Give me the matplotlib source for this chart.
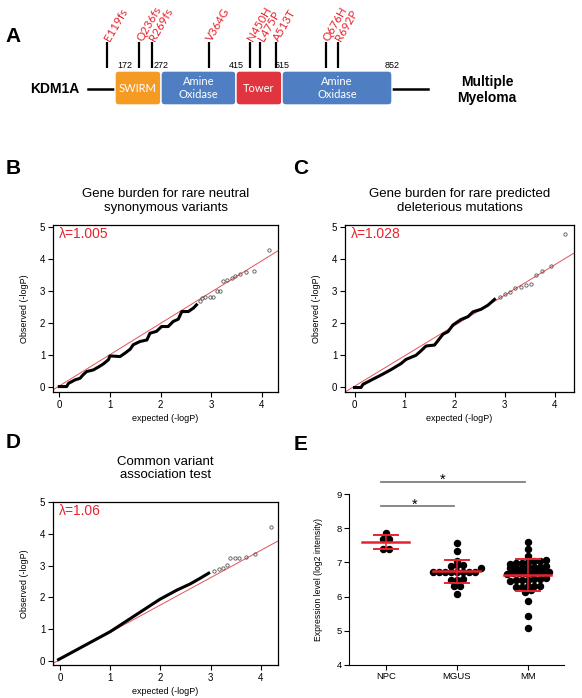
import numpy as np
import matplotlib
matplotlib.use('Agg')
import matplotlib.pyplot as plt
from matplotlib.patches import FancyBboxPatch

plt.rcParams['font.family'] = ['Liberation Sans', 'DejaVu Sans']

# ---- panel A: KDM1A domains and mutations
domain_names = ['SWIRM', 'Amine\nOxidase', 'Tower', 'Amine\nOxidase']
domain_start = [172, 272, 415, 515]
domain_end = [272, 415, 515, 852]
domain_colors = ['#F59A23', '#4F7EC2', '#E0343E', '#4F7EC2']
boundaries = [172, 272, 415, 515, 852]
mutations = ['E119fs', 'Q236fs', 'R269fs', 'V364G', 'N450H', 'L475P', 'A513T', 'Q676H', 'R692P']
mut_pos = [119, 236, 269, 364, 450, 475, 513, 676, 692]

# ---- panels B-D: QQ plots
b_exp = [0.0, 0.145, 0.18, 0.31, 0.41, 0.47, 0.54, 0.67, 0.77, 0.87, 0.97, 1.0, 1.2, 1.3, 1.40,
         1.46, 1.59, 1.73, 1.79, 1.92, 2.02, 2.15, 2.25, 2.35, 2.42, 2.55, 2.65, 2.71]
b_obs = [0.0, 0.0, 0.10, 0.21, 0.26, 0.37, 0.47, 0.52, 0.61, 0.71, 0.84, 0.96, 0.94, 1.05, 1.17,
         1.31, 1.41, 1.46, 1.67, 1.73, 1.88, 1.88, 2.04, 2.11, 2.35, 2.35, 2.46, 2.56]
b_tail_exp = [2.77, 2.81, 2.88, 2.98, 3.04, 3.11, 3.18, 3.24, 3.31, 3.41, 3.47, 3.57, 3.69, 3.85, 4.15]
b_tail_obs = [2.67, 2.77, 2.82, 2.82, 2.82, 2.98, 2.98, 3.30, 3.35, 3.40, 3.45, 3.53, 3.58, 3.63, 4.27]

c_exp = [0.0, 0.13, 0.17, 0.33, 0.53, 0.73, 0.93, 1.03, 1.23, 1.33, 1.43, 1.60, 1.77, 1.87, 1.97,
         2.13, 2.27, 2.37, 2.53, 2.67, 2.80]
c_obs = [-0.02, -0.02, 0.08, 0.21, 0.37, 0.54, 0.73, 0.86, 0.99, 1.13, 1.28, 1.31, 1.65, 1.73, 1.94,
         2.11, 2.20, 2.35, 2.43, 2.56, 2.74]
c_tail_exp = [2.90, 3.00, 3.10, 3.20, 3.33, 3.43, 3.52, 3.63, 3.75, 3.92, 4.21]
c_tail_obs = [2.82, 2.91, 2.98, 3.09, 3.14, 3.19, 3.21, 3.50, 3.63, 3.79, 4.78]

d_exp = [-0.03, 1.0, 1.99, 2.33, 2.59, 2.79, 2.96]
d_obs = [0.04, 0.92, 1.94, 2.23, 2.42, 2.60, 2.76]
d_tail_exp = [3.06, 3.16, 3.24, 3.32, 3.39, 3.48, 3.57, 3.71, 3.89, 4.20]
d_tail_obs = [2.83, 2.88, 2.92, 3.02, 3.23, 3.23, 3.25, 3.28, 3.36, 4.20]

qq_titles = ['Gene burden for rare neutral\nsynonymous variants',
             'Gene burden for rare predicted\ndeleterious mutations',
             'Common variant\nassociation test']
qq_lambda = ['λ=1.005', 'λ=1.028', 'λ=1.06']
qq_slope = [0.98, 0.95, 0.86]
qq_icpt = [0.02, 0.02, 0.04]

# ---- panel E: expression levels
groups = ['NPC', 'MGUS', 'MM']
npc = [7.85, 7.67, 7.67, 7.38, 7.39]
mgus = [7.56, 7.33, 7.04, 6.93, 6.92, 6.90, 6.83, 6.72, 6.72, 6.72, 6.72, 6.72, 6.72, 6.72, 6.72,
        6.52, 6.50, 6.48, 6.32, 6.30, 6.08]
mm = [7.60, 7.40, 7.19,
      7.05, 7.02, 6.98, 6.95, 6.97, 7.03, 7.06,
      6.88, 6.86, 6.84, 6.90, 6.85, 6.83, 6.87,
      6.72, 6.70, 6.68, 6.71, 6.69, 6.73, 6.67, 6.70,
      6.52, 6.50, 6.48, 6.51, 6.47, 6.49, 6.53,
      6.32, 6.30, 6.28, 6.31, 6.27,
      6.18, 6.13,
      5.87, 5.42, 5.08]
sig_pairs = [(0, 2), (0, 1)]
sig_y = [9.35, 8.64]

RED = '#E8232E'
W, H = 582, 698

fig = plt.figure(figsize=(W / 100, H / 100), dpi=100)


def fbox(x0, y0, x1, y1):
    # pixel box (from top-left) -> figure fraction rect
    return [x0 / W, 1 - y1 / H, (x1 - x0) / W, (y1 - y0) / H]


# %% panel A  (schematic, not to scale: residue -> drawing position)
aa_knots = [0, 172, 269, 272, 415, 513, 515, 676, 692, 852, 940]
px_knots = [88, 115, 152, 161, 236, 276, 282, 326, 338, 392, 428]


def to_px(aa):
    return np.interp(aa, aa_knots, px_knots)


axA = fig.add_axes(fbox(0, 0, W, 125))
axA.set_xlim(0, W)
axA.set_ylim(125, 0)
axA.axis('off')

axA.plot(to_px([0, 940]), [89, 89], color='black', lw=1.8, zorder=1)
for name, s, e, c in zip(domain_names, domain_start, domain_end, domain_colors):
    x0, x1 = to_px(s), to_px(e)
    box = FancyBboxPatch((x0, 71), x1 - x0, 34, boxstyle='round,pad=0,rounding_size=4',
                         fc=c, ec='white', lw=1, zorder=2)
    axA.add_patch(box)
    axA.text((x0 + x1) / 2, 88, name, color='white', ha='center', va='center',
             fontsize=8, family='Lato', linespacing=1.15, zorder=3)

for i, b in enumerate(boundaries):
    axA.text(to_px(b) + (2 if i == 0 else 0), 66, str(b), ha='left' if i == 0 else 'center',
             va='center', fontsize=6.5)

axA.vlines(to_px(mut_pos), 42, 68, color='black', lw=1.6)
for m, p in zip(mutations, to_px(mut_pos)):
    axA.text(p, 40, m, rotation=60, rotation_mode='anchor', ha='left', va='center',
             color=RED, fontsize=8.3, family='Lato')

axA.text(55, 89, 'KDM1A', fontsize=10, weight='bold', ha='center', va='center')
axA.text(487, 90, 'Multiple\nMyeloma', fontsize=10, weight='bold',
         ha='center', va='center', linespacing=1.2)

# %% panels B, C, D
qq_boxes = [fbox(53, 225, 278, 392), fbox(345, 225, 574, 392), fbox(53, 502, 278, 665)]
qq_xlim = [(-0.125, 4.32), (-0.19, 4.39), (-0.14, 4.34)]
qq_ylim = [(-0.17, 5.06), (-0.16, 5.07), (-0.13, 5.0)]
qq_pad = [10, 10, 17]
lines = [(b_exp, b_obs, b_tail_exp, b_tail_obs),
         (c_exp, c_obs, c_tail_exp, c_tail_obs),
         (d_exp, d_obs, d_tail_exp, d_tail_obs)]

for k in range(3):
    ax = fig.add_axes(qq_boxes[k])
    ex, ob, tex, tob = lines[k]
    ax.axline((0, qq_icpt[k]), slope=qq_slope[k], color='#E5505A', lw=0.7, zorder=1)
    ax.plot(ex, ob, color='black', lw=2.2, solid_joinstyle='round', zorder=2)
    ax.plot(tex, tob, 'o', mfc='none', mec='#555555', ms=2.4, mew=0.6, zorder=2)
    ax.set_xlim(qq_xlim[k])
    ax.set_ylim(qq_ylim[k])
    ax.set_xticks(range(5))
    ax.set_yticks(range(6))
    ax.tick_params(labelsize=7, length=3.5, width=0.8, pad=2)
    for sp in ax.spines.values():
        sp.set_linewidth(0.9)
    ax.set_xlabel('expected (-logP)', fontsize=6.5, labelpad=3)
    ax.set_ylabel('Observed (-logP)', fontsize=6.5, labelpad=8)
    ax.set_title(qq_titles[k], fontsize=9.5, pad=qq_pad[k], linespacing=1.2)
    ax.text(0.025, 0.945, qq_lambda[k], transform=ax.transAxes, color=RED,
            fontsize=10, va='center', ha='left')

# %% panel E
axE = fig.add_axes(fbox(349, 494, 564, 665))
step = 0.085
for i, vals in enumerate([npc, mgus, mm]):
    # simple swarm: group close values into rows, spread each row sideways
    v = np.sort(np.array(vals))
    xs = []
    ys = []
    row = [v[0]]
    rows = []
    for val in v[1:]:
        if val - row[0] <= 0.12:
            row.append(val)
        else:
            rows.append(row)
            row = [val]
    rows.append(row)
    for r in rows:
        n = len(r)
        off = (np.arange(n) - (n - 1) / 2) * step
        xs.extend(i + off)
        ys.extend(r)
    axE.scatter(xs, ys, s=19, color='black', zorder=2)
    mean = np.mean(vals)
    sd = np.std(vals, ddof=1)
    axE.plot([i - 0.33, i + 0.33], [mean, mean], color=RED, lw=1.8, zorder=3)
    axE.plot([i, i], [mean - sd, mean + sd], color=RED, lw=1.1, zorder=3)
    axE.plot([i - 0.17, i + 0.17], [mean + sd, mean + sd], color=RED, lw=1.4, zorder=3)
    axE.plot([i - 0.17, i + 0.17], [mean - sd, mean - sd], color=RED, lw=1.4, zorder=3)

for (a, b), y in zip(sig_pairs, sig_y):
    axE.plot([a - 0.07, b - 0.04], [y, y], color='#7F7F7F', lw=1.3, clip_on=False)
    axE.annotate('*', (a + 0.4 * (b - a), y), xytext=(0, -1.5), textcoords='offset points',
                 ha='center', va='baseline', fontsize=10.5, annotation_clip=False)

axE.set_xlim(-0.52, 2.51)
axE.set_ylim(4, 9)
axE.set_xticks(range(3))
axE.set_xticklabels(groups)
axE.set_yticks(range(4, 10))
axE.spines['top'].set_visible(False)
axE.spines['right'].set_visible(False)
axE.tick_params(labelsize=6.8, length=3.5, width=0.8, pad=1.5)
axE.set_ylabel('Expression level (log2 intensity)', fontsize=6.2, labelpad=10)

# panel letters
for lab, x, y in [('A', 13, 36), ('B', 13, 169), ('C', 301, 169), ('D', 13, 443), ('E', 301, 445)]:
    fig.text(x / W, 1 - y / H, lab, fontsize=15, weight='bold', ha='center', va='center')

fig.savefig('out.png', dpi=100)
